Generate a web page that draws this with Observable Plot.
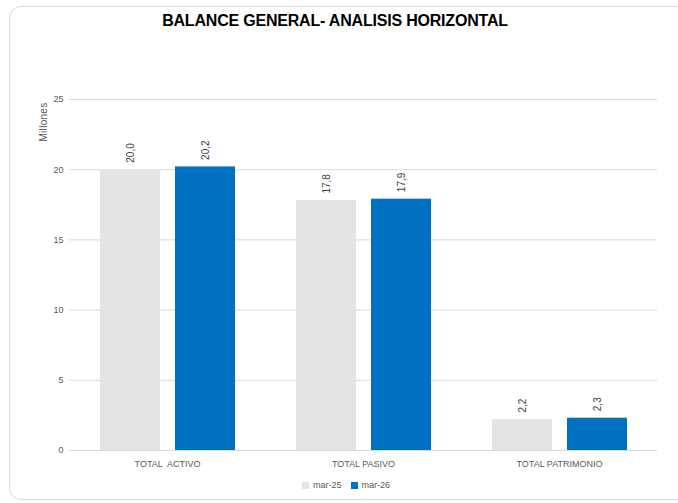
<!DOCTYPE html>
<html>
<head>
<meta charset="utf-8">
<script src="https://cdn.jsdelivr.net/npm/d3@7"></script>
<script src="https://cdn.jsdelivr.net/npm/@observablehq/plot@0.6"></script>
<style>
  html, body { margin: 0; padding: 0; background: #fff; overflow: hidden; }
  #wrap { position: relative; width: 678px; height: 503px; font-family: "Liberation Sans", Arial, sans-serif; }
  #frame { position: absolute; left: 9px; top: 6px; width: 680px; height: 494px; border: 1px solid #d9d9d9; border-radius: 12px; box-sizing: border-box; }
  #title { position: absolute; left: 0; top: 12px; width: 670px; text-align: center; font-weight: bold; font-size: 16px; color: #000; letter-spacing: -0.2px; }
  #ylabel { position: absolute; left: 43px; top: 122px; transform: translate(-50%, -50%) rotate(-90deg); font-size: 10px; color: #595959; white-space: nowrap; letter-spacing: 0.3px; }
  #chart { position: absolute; left: 0; top: 40px; }
  #legend { position: absolute; top: 480px; left: 302px; font-size: 9px; color: #595959; display: flex; align-items: center; }
  #legend .sw { width: 7px; height: 7px; display: inline-block; margin-right: 4px; }
  #legend .item { display: flex; align-items: center; margin-right: 9px; }
</style>
</head>
<body>
<div id="wrap">
  <div id="frame"></div>
  <div id="title">BALANCE GENERAL- ANALISIS HORIZONTAL</div>
  <div id="ylabel">Millones</div>
  <div id="chart"></div>
  <div id="legend"></div>
</div>
<script>
const categories = ["TOTAL  ACTIVO", "TOTAL PASIVO", "TOTAL PATRIMONIO"];
const series = ["mar-25", "mar-26"];
const values_mar25 = [20.0, 17.8, 2.2];
const values_mar26 = [20.2, 17.9, 2.3];
const colors = ["#e4e4e4", "#0070c0"];
const yTicks = [0, 5, 10, 15, 20, 25];

const data = [];
categories.forEach((c, i) => {
  data.push({category: c, series: series[0], value: values_mar25[i]});
  data.push({category: c, series: series[1], value: values_mar26[i]});
});
const fmt = v => v.toFixed(1).replace(".", ",");

const chart = Plot.plot({
  width: 678,
  height: 440,
  marginTop: 59,
  marginBottom: 30,
  marginLeft: 68,
  marginRight: 20,
  style: {fontFamily: "Liberation Sans, Arial, sans-serif", color: "#595959", background: "transparent"},
  fx: {domain: categories, padding: 0, label: null, axis: "bottom", tickSize: 0, tickPadding: 10},
  x: {domain: series, paddingInner: 0.2, paddingOuter: 0.39, axis: null},
  y: {domain: [0, 25], ticks: yTicks, label: null, tickSize: 0, tickPadding: 6, tickFormat: d => String(d)},
  color: {domain: series, range: colors},
  marks: [
    Plot.ruleY(yTicks, {stroke: "#d9d9d9", strokeWidth: 1}),
    Plot.barY(data, {fx: "category", x: "series", y: "value", fill: "series", style: {filter: "drop-shadow(0px 0px 1px rgba(0,0,0,0.25))"}}),
    Plot.text(data, {fx: "category", x: "series", y: "value", text: d => fmt(d.value), rotate: -90, textAnchor: "start", lineAnchor: "middle", dy: -7, fontSize: 10, fill: "#404040"})
  ]
});
chart.querySelectorAll('g[aria-label="y-axis tick label"], g[aria-label="fx-axis tick label"]').forEach(g => g.setAttribute("font-size", "9"));
document.getElementById("chart").appendChild(chart);

const legend = document.getElementById("legend");
series.forEach((s, i) => {
  const item = document.createElement("div");
  item.className = "item";
  const sw = document.createElement("span");
  sw.className = "sw";
  sw.style.background = colors[i];
  item.appendChild(sw);
  item.appendChild(document.createTextNode(s));
  legend.appendChild(item);
});
</script>
</body>
</html>
